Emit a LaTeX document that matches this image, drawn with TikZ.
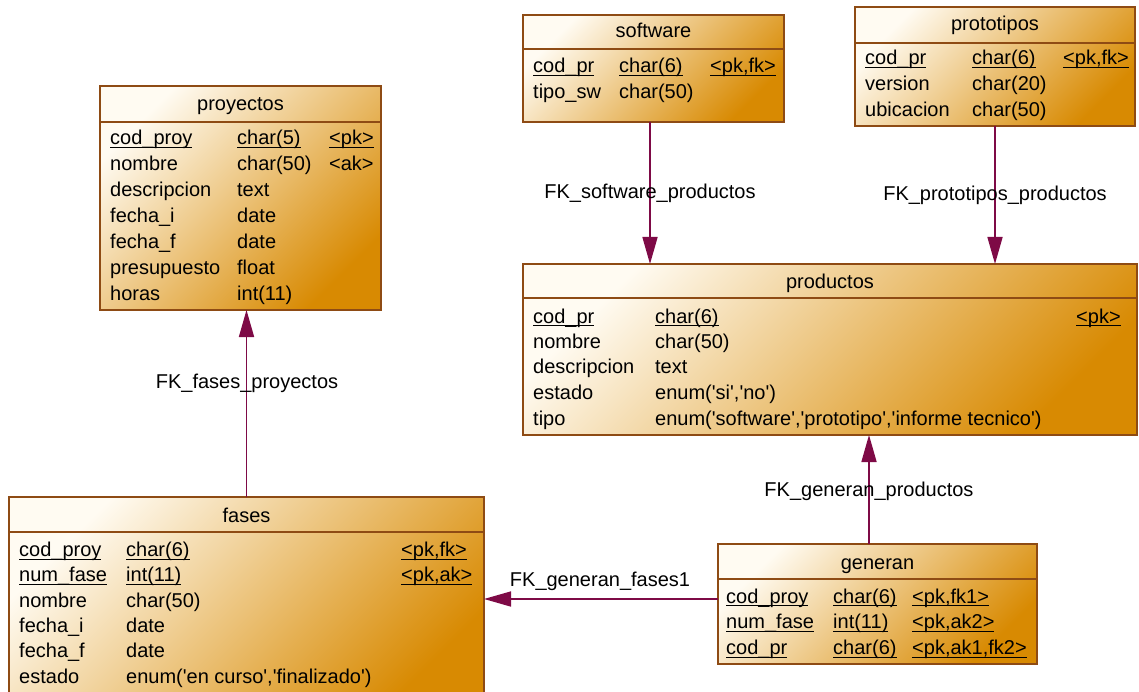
\documentclass[tikz,border=0pt]{standalone}
\usepackage{fontspec}
\setmainfont{Liberation Sans}[Ligatures=TeXOff]
\usepackage{array}
\usetikzlibrary{arrows.meta}

\definecolor{boxedge}{HTML}{8E4B14}
\definecolor{shadelight}{HTML}{FFFBF2}
\definecolor{shadedark}{HTML}{D88A02}
\definecolor{fkline}{HTML}{7E0A46}

% text size with a given row pitch
\newcommand\rowfont[1]{\fontsize{20}{#1}\selectfont}
% key attributes: underline drawn at a fixed depth
\newcommand\keyul[1]{\leavevmode\setbox0\hbox{#1}\rlap{\rule[-3.4pt]{\wd0}{1.1pt}}\box0}
\newcolumntype{P}[1]{>{\raggedright\arraybackslash}p{#1}}

\tikzset{
  entity/.style={draw=boxedge, line width=1.4pt, top color=shadelight,
    bottom color=shadedark, shading angle=45, anchor=north west,
    inner sep=0pt, outer sep=0pt},
  headrule/.style={draw=boxedge, line width=1.4pt},
  enttitle/.style={anchor=base, inner sep=0pt, font=\rowfont{24}},
  attrs/.style={anchor=base west, inner sep=0pt, align=left},
  fk/.style={draw=fkline, line width=1.6pt, -{Triangle[length=27pt,width=15pt]}},
  fklabel/.style={anchor=base, inner sep=0pt, font=\rowfont{24}}
}

\begin{document}
\begin{tikzpicture}[x=1pt,y=-1pt]
\useasboundingbox (0,0) rectangle (1139,692);
\clip (0,0) rectangle (1139,692);
\fill[white] (0,0) rectangle (1139,692);

% ---------- proyectos ----------
\node[entity, minimum width=281pt, minimum height=224pt] (proyectos) at (100,86) {};
\draw[headrule] ([yshift=-36pt]proyectos.north west) -- ([yshift=-36pt]proyectos.north east);
\node[enttitle] (proyectos-t) at (240.5,111) {proyectos};
\node[attrs, font=\rowfont{25.9}] (proyectos-a) at (110,145) {%
\begin{tabular}[t]{@{}P{127pt}@{}P{92pt}@{}l@{}}
\keyul{cod\_proy} & \keyul{char(5)} & \keyul{<pk>}\\
nombre & char(50) & <ak>\\
descripcion & text & \\
fecha\_i & date & \\
fecha\_f & date & \\
presupuesto & float & \\
horas & int(11) &
\end{tabular}};

% ---------- software ----------
\node[entity, minimum width=261pt, minimum height=107pt] (software) at (523,15) {};
\draw[headrule] ([yshift=-34pt]software.north west) -- ([yshift=-34pt]software.north east);
\node[enttitle] (software-t) at (653.5,38) {software};
\node[attrs, font=\rowfont{26}] (software-a) at (533,73) {%
\begin{tabular}[t]{@{}P{86pt}@{}P{91pt}@{}l@{}}
\keyul{cod\_pr} & \keyul{char(6)} & \keyul{<pk,fk>}\\
tipo\_sw & char(50) &
\end{tabular}};

% ---------- prototipos ----------
\node[entity, minimum width=280pt, minimum height=119pt] (prototipos) at (855,7) {};
\draw[headrule] ([yshift=-36pt]prototipos.north west) -- ([yshift=-36pt]prototipos.north east);
\node[enttitle] (prototipos-t) at (995,31) {prototipos};
\node[attrs, font=\rowfont{25.8}] (prototipos-a) at (865,65) {%
\begin{tabular}[t]{@{}P{107pt}@{}P{91pt}@{}l@{}}
\keyul{cod\_pr} & \keyul{char(6)} & \keyul{<pk,fk>}\\
version & char(20) & \\
ubicacion & char(50) &
\end{tabular}};

% ---------- productos ----------
\node[entity, minimum width=614pt, minimum height=171pt] (productos) at (523,264) {};
\draw[headrule] ([yshift=-34pt]productos.north west) -- ([yshift=-34pt]productos.north east);
\node[enttitle] (productos-t) at (830,288) {productos};
\node[attrs, font=\rowfont{25.5}] (productos-a) at (533,323) {%
\begin{tabular}[t]{@{}P{122pt}@{}P{421pt}@{}l@{}}
\keyul{cod\_pr} & \keyul{char(6)} & \keyul{<pk>}\\
nombre & char(50) & \\
descripcion & text & \\
estado & enum('si','no') & \\
tipo & enum('software','prototipo','informe tecnico') &
\end{tabular}};

% ---------- fases ----------
\node[entity, minimum width=475pt, minimum height=215pt] (fases) at (9,497) {};
\draw[headrule] ([yshift=-35pt]fases.north west) -- ([yshift=-35pt]fases.north east);
\node[enttitle] (fases-t) at (246.5,522) {fases};
\node[attrs, font=\rowfont{25.3}] (fases-a) at (19,556.5) {%
\begin{tabular}[t]{@{}P{107pt}@{}P{275pt}@{}l@{}}
\keyul{cod\_proy} & \keyul{char(6)} & \keyul{<pk,fk>}\\
\keyul{num\_fase} & \keyul{int(11)} & \keyul{<pk,ak>}\\
nombre & char(50) & \\
fecha\_i & date & \\
fecha\_f & date & \\
estado & enum('en curso','finalizado') &
\end{tabular}};

% ---------- generan ----------
\node[entity, minimum width=319pt, minimum height=120pt] (generan) at (718,544) {};
\draw[headrule] ([yshift=-35pt]generan.north west) -- ([yshift=-35pt]generan.north east);
\node[enttitle] (generan-t) at (877.5,569) {generan};
\node[attrs, font=\rowfont{25.8}] (generan-a) at (726,603) {%
\begin{tabular}[t]{@{}P{107pt}@{}P{79pt}@{}l@{}}
\keyul{cod\_proy} & \keyul{char(6)} & \keyul{<pk,fk1>}\\
\keyul{num\_fase} & \keyul{int(11)} & \keyul{<pk,ak2>}\\
\keyul{cod\_pr} & \keyul{char(6)} & \keyul{<pk,ak1,fk2>}
\end{tabular}};

% ---------- references ----------
\draw[fk] (fases.north) -- (fases.north |- proyectos.south);
\node[fklabel] (l-fases) at (247,388) {FK\_fases\_proyectos};

\coordinate (sw-out) at ([xshift=-3.5pt]software.south);
\draw[fk] (sw-out) -- (sw-out |- productos.north);
\node[fklabel] (l-software) at (650,199) {FK\_software\_productos};

\draw[fk] (prototipos.south) -- (prototipos.south |- productos.north);
\node[fklabel] (l-prototipos) at (995,201) {FK\_prototipos\_productos};

\coordinate (gen-up) at ([xshift=-8.5pt]generan.north);
\draw[fk] (gen-up) -- (gen-up |- productos.south);
\node[fklabel] (l-genprod) at (869,496) {FK\_generan\_productos};

\coordinate (gen-left) at ([yshift=5pt]generan.west);
\draw[fk] (gen-left) -- (gen-left -| fases.east);
\node[fklabel] (l-genfases) at (600,586) {FK\_generan\_fases1};
\end{tikzpicture}
\end{document}
